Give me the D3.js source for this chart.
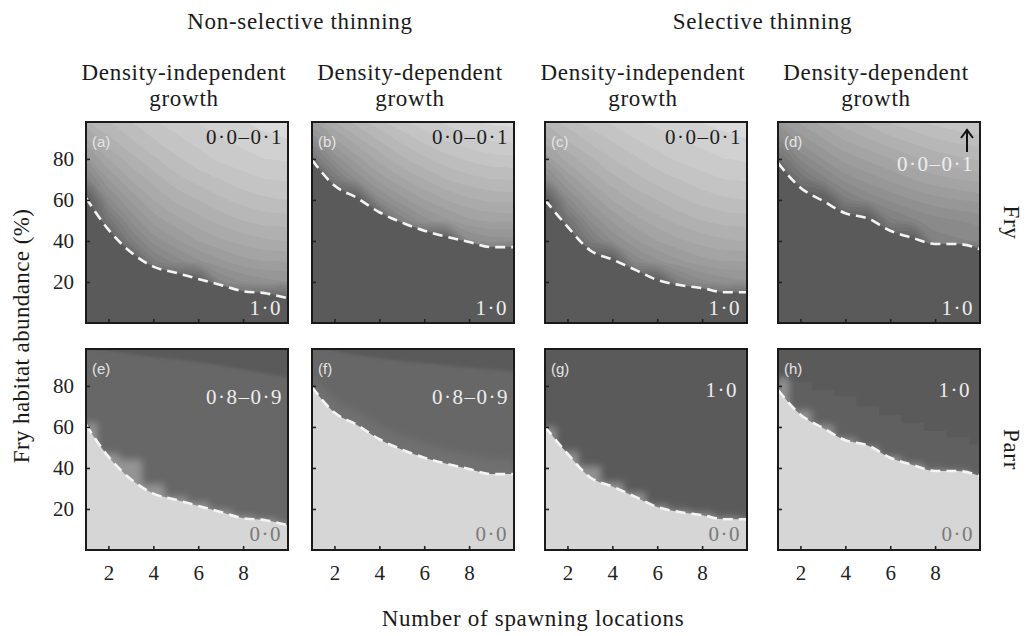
<!DOCTYPE html>
<html>
<head>
<meta charset="utf-8">
<script src="https://cdn.jsdelivr.net/npm/d3@7"></script>
<style>
  body { margin: 0; background: #fff; }
</style>
</head>
<body>
<svg id="chart" width="1026" height="636"></svg>
<script>
// values
const locations = [1, 2, 3, 4, 5, 6, 7, 8, 9, 10];
const habitatRows = [100, 90, 80, 70, 60, 50, 40, 30, 20, 10, 0];
const xTicks = [2, 4, 6, 8];
const yTicks = [20, 40, 60, 80];

const thinning = ['Non-selective thinning', 'Selective thinning'];
const growth = ['Density-independent', 'Density-dependent'];
const stages = ['Fry', 'Parr'];
const letters = ['a', 'b', 'c', 'd', 'e', 'f', 'g', 'h'];

// dashed line: fry habitat (%) at each number of spawning locations
const limitNonSelIndep = [61, 45.5, 34.5, 27.5, 24.5, 21.5, 18.5, 15.5, 14.5, 12];
const limitNonSelDep = [79.5, 67, 61, 54, 49, 45, 42, 39.5, 37, 37];
const limitSelIndep = [60, 47, 35.5, 31, 26, 21, 18.5, 17, 15, 15];
const limitSelDep = [78, 66, 59.5, 53.5, 51, 45, 41.5, 38.5, 38.5, 36];

// fry panels: probability grid, rows = habitatRows, columns = locations
const fryA = [
  [0.30, 0.24, 0.19, 0.15, 0.12, 0.09, 0.07, 0.05, 0.03, 0.02],
  [0.40, 0.31, 0.25, 0.20, 0.16, 0.13, 0.10, 0.08, 0.06, 0.05],
  [0.52, 0.40, 0.32, 0.26, 0.21, 0.17, 0.14, 0.12, 0.10, 0.09],
  [0.68, 0.50, 0.40, 0.33, 0.27, 0.23, 0.20, 0.17, 0.15, 0.14],
  [1, 0.62, 0.49, 0.40, 0.34, 0.30, 0.26, 0.23, 0.21, 0.20],
  [1, 0.78, 0.59, 0.48, 0.42, 0.37, 0.33, 0.30, 0.28, 0.27],
  [1, 1, 0.72, 0.58, 0.51, 0.45, 0.41, 0.38, 0.36, 0.35],
  [1, 1, 1, 0.72, 0.63, 0.56, 0.51, 0.47, 0.45, 0.44],
  [1, 1, 1, 1, 1, 1, 0.66, 0.60, 0.57, 0.55],
  [1, 1, 1, 1, 1, 1, 1, 1, 1, 1],
  [1, 1, 1, 1, 1, 1, 1, 1, 1, 1]
];
const fryB = [
  [0.42, 0.33, 0.26, 0.20, 0.15, 0.11, 0.08, 0.05, 0.03, 0.02],
  [0.58, 0.45, 0.36, 0.29, 0.23, 0.18, 0.14, 0.11, 0.09, 0.08],
  [0.78, 0.58, 0.47, 0.38, 0.31, 0.26, 0.22, 0.19, 0.17, 0.16],
  [1, 0.76, 0.59, 0.48, 0.41, 0.35, 0.30, 0.27, 0.25, 0.24],
  [1, 1, 1, 0.62, 0.52, 0.45, 0.40, 0.36, 0.34, 0.33],
  [1, 1, 1, 1, 0.68, 0.57, 0.51, 0.46, 0.44, 0.43],
  [1, 1, 1, 1, 1, 1, 1, 0.62, 0.58, 0.57],
  [1, 1, 1, 1, 1, 1, 1, 1, 1, 1],
  [1, 1, 1, 1, 1, 1, 1, 1, 1, 1],
  [1, 1, 1, 1, 1, 1, 1, 1, 1, 1],
  [1, 1, 1, 1, 1, 1, 1, 1, 1, 1]
];
const fryC = [
  [0.26, 0.21, 0.17, 0.13, 0.10, 0.08, 0.06, 0.04, 0.03, 0.02],
  [0.36, 0.29, 0.23, 0.19, 0.15, 0.12, 0.10, 0.08, 0.06, 0.05],
  [0.48, 0.38, 0.31, 0.25, 0.21, 0.17, 0.14, 0.12, 0.10, 0.09],
  [0.64, 0.49, 0.39, 0.32, 0.27, 0.23, 0.20, 0.17, 0.15, 0.14],
  [1, 0.62, 0.49, 0.40, 0.34, 0.30, 0.26, 0.23, 0.21, 0.20],
  [1, 0.80, 0.60, 0.49, 0.42, 0.37, 0.33, 0.30, 0.28, 0.27],
  [1, 1, 0.74, 0.60, 0.51, 0.45, 0.41, 0.38, 0.36, 0.35],
  [1, 1, 1, 1, 0.64, 0.56, 0.51, 0.47, 0.45, 0.44],
  [1, 1, 1, 1, 1, 1, 0.70, 0.62, 0.58, 0.56],
  [1, 1, 1, 1, 1, 1, 1, 1, 1, 1],
  [1, 1, 1, 1, 1, 1, 1, 1, 1, 1]
];
const fryD = [
  [0.50, 0.42, 0.36, 0.31, 0.27, 0.23, 0.20, 0.17, 0.15, 0.13],
  [0.62, 0.52, 0.45, 0.39, 0.35, 0.31, 0.28, 0.25, 0.23, 0.21],
  [0.82, 0.64, 0.55, 0.48, 0.44, 0.40, 0.36, 0.33, 0.31, 0.29],
  [1, 0.80, 0.67, 0.58, 0.53, 0.49, 0.45, 0.42, 0.40, 0.38],
  [1, 1, 1, 0.72, 0.64, 0.59, 0.55, 0.52, 0.50, 0.48],
  [1, 1, 1, 1, 1, 0.72, 0.66, 0.62, 0.60, 0.58],
  [1, 1, 1, 1, 1, 1, 1, 0.68, 0.66, 0.64],
  [1, 1, 1, 1, 1, 1, 1, 1, 1, 1],
  [1, 1, 1, 1, 1, 1, 1, 1, 1, 1],
  [1, 1, 1, 1, 1, 1, 1, 1, 1, 1],
  [1, 1, 1, 1, 1, 1, 1, 1, 1, 1]
];
const shadeSteps = [0.05, 0.1, 0.15, 0.2, 0.25, 0.3, 0.35, 0.4, 0.45, 0.5, 0.55, 0.6, 0.65, 0.7, 0.75, 0.8, 0.85, 0.9];

// parr panels: probability above the dashed line, darker cap, transition zones
const parrMain = [0.9, 0.9, 1, 1];
const parrCapE = [98, 97, 95.5, 94, 93, 91.5, 90, 88, 86, 84];
const parrCapF = [99, 97, 95, 93.5, 92, 91, 90, 89, 88, 87];
const parrBandF = [85, 74, 68, 61, 56, 52, 49, 46.5, 44.5, 44];
const parrStairH = [84, 82, 78, 75, 70, 66, 62, 58, 55, 51.5];
const parrFuzzE = [62, 47, 44, 32, 26, 23, 19.5, 16.5, 15, 13];
const parrFuzzG = [60, 48, 41, 33, 28, 22, 19.5, 18, 16, 15.5];
const parrFuzzH = [84, 68, 61, 54.5, 50, 45.5, 42, 39, 38.5, 36];

const fryTopNote = ['0·0–0·1', '0·0–0·1', '0·0–0·1', '0·0–0·1'];
const fryLowNote = ['1·0', '1·0', '1·0', '1·0'];
const parrTopNote = ['0·8–0·9', '0·8–0·9', '1·0', '1·0'];
const parrLowNote = ['0·0', '0·0', '0·0', '0·0'];

const limits = [limitNonSelIndep, limitNonSelDep, limitSelIndep, limitSelDep];
const fryGrids = [fryA, fryB, fryC, fryD];
const parrCaps = [parrCapE, parrCapF, null, null];
const parrBands = [null, parrBandF, null, null];
const parrStairs = [null, null, null, parrStairH];
const parrFuzz = [parrFuzzE, null, parrFuzzG, parrFuzzH];

// layout
const SERIF = '"Liberation Serif", "Times New Roman", Times, "DejaVu Serif", serif';
const SANS = '"Liberation Sans", Arial, sans-serif';
const svg = d3.select('#chart');
const W = 202, H = 201;
const colLeft = [86, 312, 545, 778];
const rowTop = [122, 349];

const x = d3.scaleLinear().domain([1, 10]).range([0, W]);
const y = d3.scaleLinear().domain([0, 98]).range([H, 0]);
const shade = d3.scaleLinear().domain([0, 1]).range(['#dbdbdb', '#5a5a5a']);

const defs = svg.append('defs');
defs.append('filter').attr('id', 'soft')
  .attr('x', '-30%').attr('y', '-30%').attr('width', '160%').attr('height', '160%')
  .append('feGaussianBlur').attr('stdDeviation', 3.5);
defs.append('filter').attr('id', 'haze')
  .attr('x', '-30%').attr('y', '-30%').attr('width', '160%').attr('height', '160%')
  .append('feGaussianBlur').attr('stdDeviation', 1.5);
defs.append('clipPath').attr('id', 'clip')
  .append('rect').attr('width', W).attr('height', H);

const pts = arr => arr.map((v, i) => ({ x: locations[i], y: v }));
const line = d3.line().x(d => x(d.x)).y(d => y(d.y)).curve(d3.curveMonotoneX);
const below = d3.area().x(d => x(d.x)).y0(H).y1(d => y(d.y)).curve(d3.curveMonotoneX);
const above = d3.area().x(d => x(d.x)).y0(-10).y1(d => y(d.y)).curve(d3.curveMonotoneX);
const belowStep = d3.area().x(d => x(d.x)).y0(H).y1(d => y(d.y)).curve(d3.curveStep);

// contour grid -> panel pixels, rings drawn as smooth closed curves
const gx = d3.scaleLinear().domain([0.5, locations.length - 0.5]).range([x(locations[0]), x(locations[locations.length - 1])]);
const gy = d3.scaleLinear().domain([0.5, habitatRows.length - 0.5]).range([y(habitatRows[0]), y(habitatRows[habitatRows.length - 1])]);
const ring = d3.line().x(p => gx(p[0])).y(p => gy(p[1])).curve(d3.curveCatmullRomClosed.alpha(0.5));
const contourPath = d => d.coordinates.map(poly => poly.map(rg => ring(rg.slice(0, -1))).join('')).join('');
const contours = d3.contours().size([locations.length, habitatRows.length]).thresholds(shadeSteps);

for (let r = 0; r < 2; r++) {
  for (let c = 0; c < 4; c++) {
    const g = svg.append('g').attr('transform', `translate(${colLeft[c]},${rowTop[r]})`);
    const inner = g.append('g').attr('clip-path', 'url(#clip)');
    const limit = pts(limits[c]);

    if (r === 0) {
      inner.append('rect').attr('width', W).attr('height', H).attr('fill', shade(0.01));
      inner.selectAll('path.band')
        .data(contours(fryGrids[c].flat()))
        .join('path')
        .attr('class', 'band')
        .attr('d', contourPath)
        .attr('fill-rule', 'evenodd')
        .attr('fill', d => shade(d.value + 0.03));
      inner.append('path').attr('d', below(limit)).attr('fill', shade(1));
    } else {
      inner.append('rect').attr('width', W).attr('height', H).attr('fill', shade(parrMain[c]));
      if (parrCaps[c]) {
        inner.append('path').attr('d', above(pts(parrCaps[c])))
          .attr('fill', shade(1)).attr('filter', 'url(#haze)');
      }
      if (parrStairs[c]) {
        inner.append('path').attr('d', belowStep(pts(parrStairs[c]))).attr('fill', shade(0.95));
      }
      if (parrBands[c]) {
        inner.append('path').attr('d', below(pts(parrBands[c])))
          .attr('fill', shade(0.83)).attr('filter', 'url(#soft)');
      }
      if (parrFuzz[c]) {
        inner.append('path').attr('d', belowStep(pts(parrFuzz[c])))
          .attr('fill', shade(0.4)).attr('opacity', 0.7).attr('filter', 'url(#soft)');
      }
      inner.append('path').attr('d', below(limit)).attr('fill', shade(0.04));
    }

    inner.append('path')
      .attr('d', line(limit))
      .attr('fill', 'none')
      .attr('stroke', '#f4f4f4')
      .attr('stroke-width', 2.6)
      .attr('stroke-dasharray', '10,6');

    // axes, ticks point inward
    const yAxisG = g.append('g')
      .call(d3.axisLeft(y).tickValues(yTicks).tickSize(-4).tickPadding(12)
        .tickFormat(c === 0 ? d3.format('d') : () => ''));
    const xAxisG = g.append('g')
      .attr('transform', `translate(0,${H})`)
      .call(d3.axisBottom(x).tickValues(xTicks).tickSize(-4).tickPadding(15)
        .tickFormat(r === 1 ? d3.format('d') : () => ''));
    [yAxisG, xAxisG].forEach(a => {
      a.select('.domain').remove();
      a.attr('font-family', SERIF).attr('font-size', 21);
      a.selectAll('.tick line').attr('stroke', '#222').attr('stroke-width', 1.6);
      a.selectAll('.tick text').attr('fill', '#222');
    });

    g.append('rect').attr('width', W).attr('height', H)
      .attr('fill', 'none').attr('stroke', '#1a1a1a').attr('stroke-width', 2);

    // panel letter
    g.append('text')
      .attr('x', 6).attr('y', 25)
      .attr('font-family', SANS)
      .attr('font-size', 15)
      .attr('fill', '#e4e4e4')
      .text(`(${letters[r * 4 + c]})`);

    const note = (txt, px, py, fill) => g.append('text')
      .attr('x', px).attr('y', py)
      .attr('text-anchor', 'end')
      .attr('font-family', SERIF)
      .attr('font-size', 21)
      .attr('letter-spacing', 1.5)
      .attr('fill', fill)
      .text(txt);

    if (r === 0) {
      if (c === 3) {
        note(fryTopNote[c], W - 6, 49, '#eeeeee');
        g.append('path')
          .attr('d', `M${W - 13},30V9M${W - 19},16L${W - 13},8L${W - 7},16`)
          .attr('fill', 'none').attr('stroke', '#111').attr('stroke-width', 2);
      } else {
        note(fryTopNote[c], W - 5, 22, '#1e1e1e');
      }
      note(fryLowNote[c], W - 6, H - 8, '#eeeeee');
    } else {
      note(parrTopNote[c], c < 2 ? W - 5 : W - 9, c < 2 ? 55 : 48, '#eeeeee');
      note(parrLowNote[c], W - 6, H - 9, '#7a7a7a');
    }
  }
}

// headers and axis titles
const big = 23;
const label = sel => sel.attr('font-family', SERIF).attr('font-size', big)
  .attr('fill', '#1a1a1a').attr('text-anchor', 'middle').attr('letter-spacing', 0.7);

thinning.forEach((t, i) => {
  svg.append('text').call(label)
    .attr('x', (colLeft[i * 2] + colLeft[i * 2 + 1] + W) / 2)
    .attr('y', 29)
    .text(t);
});
colLeft.forEach((left, c) => {
  const cx = left + W / 2 - 3;
  const t = svg.append('text').call(label).attr('y', 80);
  t.append('tspan').attr('x', cx).text(growth[c % 2]);
  t.append('tspan').attr('x', cx).attr('dy', 26).text('growth');
});

stages.forEach((s, r) => {
  svg.append('text').call(label)
    .attr('transform', `translate(1004,${rowTop[r] + H / 2}) rotate(90)`)
    .text(s);
});

svg.append('text').call(label)
  .attr('letter-spacing', 0.4)
  .attr('transform', `translate(29,${(rowTop[0] + rowTop[1] + H) / 2}) rotate(-90)`)
  .text('Fry habitat abundance (%)');

svg.append('text').call(label)
  .attr('x', (colLeft[0] + colLeft[3] + W) / 2)
  .attr('y', 626)
  .text('Number of spawning locations');
</script>
</body>
</html>
